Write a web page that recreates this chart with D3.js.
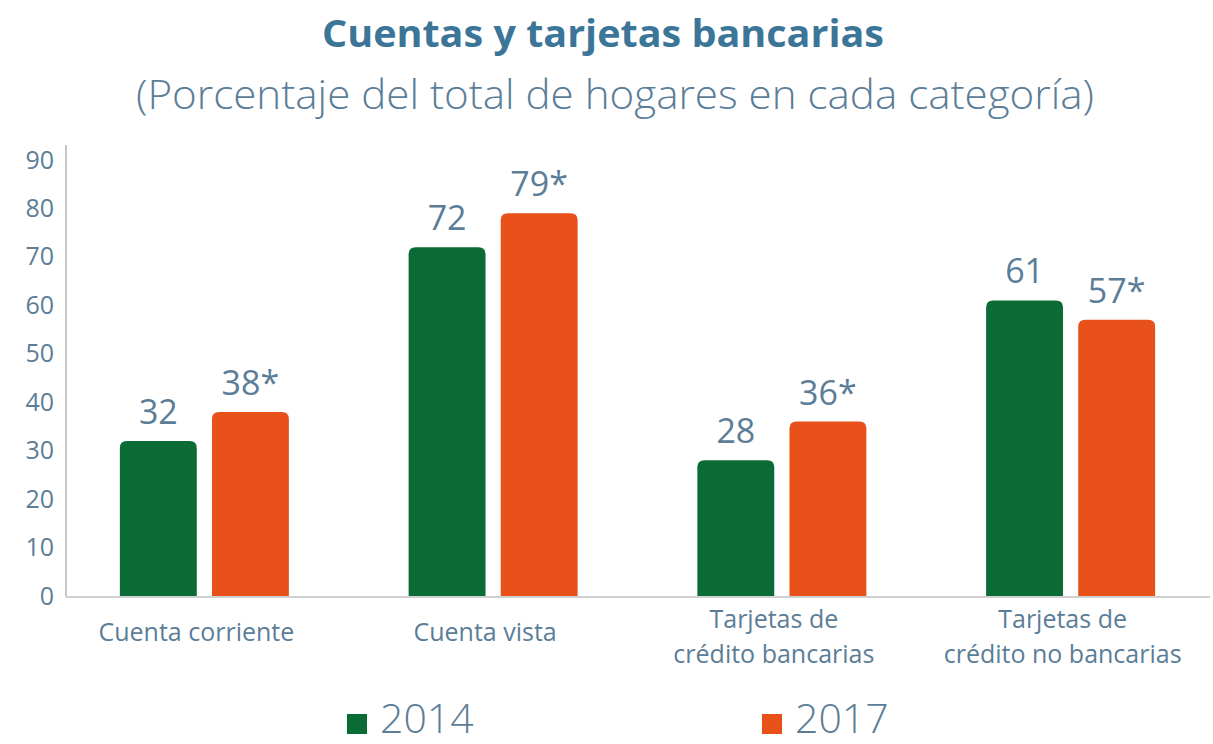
<!DOCTYPE html>
<html>
<head>
<meta charset="utf-8">
<script src="https://cdn.jsdelivr.net/npm/d3@7"></script>
<style>
  body { margin: 0; background: #fff; }
  svg { display: block; font-family: "Open Sans", sans-serif; }
</style>
</head>
<body>
<div id="chart"></div>
<script>
var categories = [
  ["Cuenta corriente"],
  ["Cuenta vista"],
  ["Tarjetas de", "crédito bancarias"],
  ["Tarjetas de", "crédito no bancarias"]
];
var years = ["2014", "2017"];
var values2014 = [32, 72, 28, 61];
var values2017 = [38, 79, 36, 57];
var labels2014 = ["32", "72", "28", "61"];
var labels2017 = ["38*", "79*", "36*", "57*"];
var yTicks = [0, 10, 20, 30, 40, 50, 60, 70, 80, 90];

var width = 1213, height = 744;
var colors = { "2014": "#0b6b35", "2017": "#e8511a" };
var textColor = "#5b7d97";

var svg = d3.select("#chart").append("svg")
  .attr("width", width)
  .attr("height", height);

// titles
svg.append("text")
  .attr("x", 603).attr("y", 47)
  .attr("text-anchor", "middle")
  .attr("font-size", 38).attr("font-weight", 700)
  .attr("fill", "#3b7598")
  .attr("textLength", 562).attr("lengthAdjust", "spacingAndGlyphs")
  .text("Cuentas y tarjetas bancarias");

svg.append("text")
  .attr("x", 615).attr("y", 109)
  .attr("text-anchor", "middle")
  .attr("font-size", 41).attr("font-weight", 300)
  .attr("fill", textColor)
  .attr("textLength", 958).attr("lengthAdjust", "spacingAndGlyphs")
  .text("(Porcentaje del total de hogares en cada categoría)");

var y = d3.scaleLinear().domain([0, 90]).range([596, 160]);

var x0 = d3.scaleBand().domain(d3.range(categories.length))
  .range([60, 1215]);
var x1 = d3.scaleBand().domain(years)
  .range([0, x0.bandwidth()]).paddingInner(0.165).paddingOuter(0.65);

// axes lines
svg.append("line")
  .attr("x1", 66).attr("x2", 66)
  .attr("y1", 145).attr("y2", 597)
  .attr("stroke", "#c8c8c8").attr("stroke-width", 2);
svg.append("line")
  .attr("x1", 66).attr("x2", 1210)
  .attr("y1", 597).attr("y2", 597)
  .attr("stroke", "#d0d0d0").attr("stroke-width", 2);

var yAxis = svg.append("g")
  .attr("transform", "translate(54,0)")
  .call(d3.axisLeft(y).tickValues(yTicks).tickSize(0).tickPadding(0));
yAxis.select(".domain").remove();
yAxis.selectAll("text")
  .attr("font-size", 25)
  .attr("font-family", "Open Sans, sans-serif")
  .attr("fill", textColor);

function roundTop(xp, yp, w, h, r) {
  return "M" + xp + "," + (yp + h) +
    "V" + (yp + r) +
    "Q" + xp + "," + yp + " " + (xp + r) + "," + yp +
    "H" + (xp + w - r) +
    "Q" + (xp + w) + "," + yp + " " + (xp + w) + "," + (yp + r) +
    "V" + (yp + h) + "Z";
}

var series = [
  { year: "2014", values: values2014, labels: labels2014 },
  { year: "2017", values: values2017, labels: labels2017 }
];

series.forEach(function (s) {
  var g = svg.append("g");
  g.selectAll("path")
    .data(s.values)
    .enter().append("path")
    .attr("d", function (d, i) {
      var xp = x0(i) + x1(s.year);
      return roundTop(xp, y(d), x1.bandwidth(), y(0) - y(d), 7);
    })
    .attr("fill", colors[s.year]);
  g.selectAll("text")
    .data(s.values)
    .enter().append("text")
    .attr("x", function (d, i) { return x0(i) + x1(s.year) + x1.bandwidth() / 2; })
    .attr("y", function (d) { return y(d) - 17; })
    .attr("text-anchor", "middle")
    .attr("font-size", 34)
    .attr("fill", textColor)
    .text(function (d, i) { return s.labels[i]; });
});

// category labels
var cat = svg.append("g").selectAll("text")
  .data(categories)
  .enter().append("text")
  .attr("x", function (d, i) { return x0(i) + x0.bandwidth() / 2 - 8; })
  .attr("y", function (d) { return d.length === 1 ? 641 : 628; })
  .attr("text-anchor", "middle")
  .attr("font-size", 25)
  .attr("fill", textColor);
cat.selectAll("tspan")
  .data(function (d) { return d; })
  .enter().append("tspan")
  .attr("x", function () { return d3.select(this.parentNode).attr("x"); })
  .attr("dy", function (d, i) { return i === 0 ? 0 : 35; })
  .text(function (d) { return d; });

// legend
var legendX = [347, 762];
var legend = svg.append("g").selectAll("g")
  .data(years)
  .enter().append("g")
  .attr("transform", function (d, i) { return "translate(" + legendX[i] + ",0)"; });
legend.append("rect")
  .attr("x", 0).attr("y", 714)
  .attr("width", 20).attr("height", 20)
  .attr("fill", function (d) { return colors[d]; });
legend.append("text")
  .attr("x", 33).attr("y", 733)
  .attr("font-size", 41).attr("font-weight", 300)
  .attr("fill", textColor)
  .text(function (d) { return d; });
</script>
</body>
</html>
